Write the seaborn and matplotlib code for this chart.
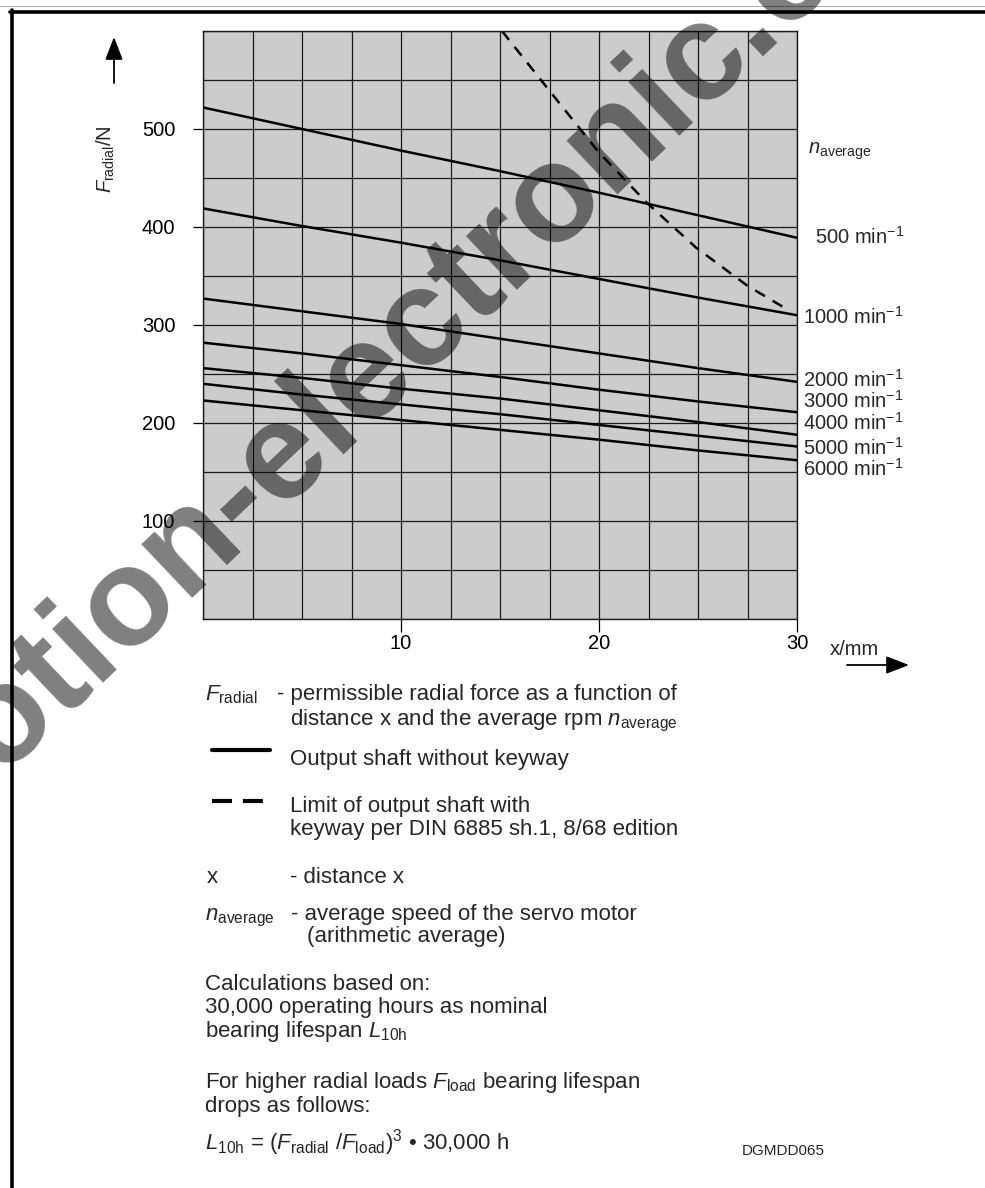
import numpy as np
import pandas as pd
import matplotlib
matplotlib.use("Agg")
import matplotlib.pyplot as plt
from matplotlib.lines import Line2D
import seaborn as sns

## ===================== data =====================

x_mm = [0, 5, 10, 15, 20, 25, 30]
speeds = ["500", "1000", "2000", "3000", "4000", "5000", "6000"]
f_500 = [522, 500, 478, 457, 435, 412, 389]
f_1000 = [419, 401, 384, 366, 347, 328, 310]
f_2000 = [327, 314, 301, 286, 271, 256, 242]
f_3000 = [282, 271, 259, 247, 234, 222, 211]
f_4000 = [256, 246, 235, 225, 213, 201, 188]
f_5000 = [240, 229, 219, 209, 198, 187, 176]
f_6000 = [223, 213, 203, 193, 183, 172, 162]

# limit for shaft with keyway (dashed)
x_keyway = [15.1, 17.5, 20.0, 22.4, 24.9, 27.5, 29.5]
f_keyway = [600, 539, 476, 425, 379, 340, 316]

x_ticks = [10, 20, 30]
y_ticks = [100, 200, 300, 400, 500]

## ===================== layout helpers =====================

W, H = 985, 1188
def fx(px):
    return px / W
def fy(py):
    return 1 - py / H

sns.set_theme(style="white")
plt.rcParams["font.family"] = ["Liberation Sans", "DejaVu Sans"]
plt.rcParams["mathtext.fontset"] = "custom"
plt.rcParams["mathtext.rm"] = "Liberation Sans"
plt.rcParams["mathtext.it"] = "Liberation Sans:italic"
plt.rcParams["mathtext.bf"] = "Liberation Sans:bold"

df = pd.DataFrame({
    "x": x_mm * len(speeds),
    "F": f_500 + f_1000 + f_2000 + f_3000 + f_4000 + f_5000 + f_6000,
    "speed": [s for s in speeds for _ in x_mm],
})

fig = plt.figure(figsize=(W / 100, H / 100), dpi=100)
ax = fig.add_axes([fx(203), fy(619), fx(797) - fx(203), fy(31) - fy(619)])
ax.set_facecolor("#cccccc")

sns.lineplot(data=df, x="x", y="F", units="speed", estimator=None, sort=False,
             color="black", lw=1.8, ax=ax, legend=False)
sns.lineplot(x=x_keyway, y=f_keyway, color="black", lw=1.8, ax=ax, legend=False)
ax.lines[-1].set_dashes((4.5, 3.6))

ax.set_xlim(0, 30)
ax.set_ylim(0, 600)
ax.set_xticks(x_ticks)
ax.set_xticks(np.arange(0, 30.01, 2.5), minor=True)
ax.set_yticks(y_ticks)
ax.set_yticks(np.arange(0, 601, 50), minor=True)
ax.set_xlabel("")
ax.set_ylabel("")
ax.grid(which="both", color="#1a1a1a", lw=0.9)
ax.tick_params(which="minor", length=0)
ax.tick_params(axis="x", which="major", bottom=True, length=9.5, width=0.9,
               pad=1.5, labelsize=14.5, colors="black")
ax.tick_params(axis="y", which="major", left=True, length=7, width=0.9,
               pad=13, labelsize=14.5, colors="black")
for sp in ax.spines.values():
    sp.set_color("#1a1a1a")
    sp.set_linewidth(1.0)

# right-hand speed labels
lab_x = [30.9, 30.3, 30.3, 30.3, 30.3, 30.3, 30.3]
lab_y = [383, 301, 237, 215, 193, 167.5, 146]
for s, lx, ly in zip(speeds, lab_x, lab_y):
    ax.text(lx, ly, s + " min$^{-1}$", fontsize=14.5, ha="left", va="baseline", clip_on=False)
ax.text(30.56, 474.5, r"$n_{\mathrm{average}}$", fontsize=14.5, ha="left", va="baseline", clip_on=False)

# axis labels and arrows
fig.text(fx(106), fy(159), r"$F_{\mathrm{radial}}$/N", rotation=90, fontsize=14.5,
         ha="center", va="center")
fig.text(fx(830), fy(655), "x/mm", fontsize=14.5, ha="left", va="baseline")
arrow = dict(arrowstyle="-|>,head_length=0.7,head_width=0.27", color="black", lw=1.3,
             mutation_scale=20, shrinkA=0, shrinkB=0)
ax.annotate("", xy=(fx(114), fy(37)), xytext=(fx(114), fy(83)),
            xycoords="figure fraction", textcoords="figure fraction", arrowprops=arrow)
ax.annotate("", xy=(fx(909), fy(665)), xytext=(fx(847), fy(665)),
            xycoords="figure fraction", textcoords="figure fraction", arrowprops=arrow)

## ===================== explanation block =====================

fs = 16
fig.text(fx(205), fy(700), r"$F_{\mathrm{radial}}$", fontsize=fs, va="baseline")
fig.text(fx(277), fy(700), "- permissible radial force as a function of", fontsize=fs, va="baseline")
fig.text(fx(290), fy(725), r"distance x and the average rpm $n_{\mathrm{average}}$", fontsize=fs, va="baseline")

fig.add_artist(Line2D([fx(212), fx(270)], [fy(750), fy(750)], color="black", lw=3))
fig.text(fx(290), fy(765), "Output shaft without keyway", fontsize=fs, va="baseline")

fig.add_artist(Line2D([fx(212), fx(263)], [fy(801), fy(801)], color="black", lw=3,
                      dashes=(4.8, 2.6)))
fig.text(fx(290), fy(812), "Limit of output shaft with", fontsize=fs, va="baseline")
fig.text(fx(290), fy(835), "keyway per DIN 6885 sh.1, 8/68 edition", fontsize=fs, va="baseline")

fig.text(fx(207), fy(883), "x", fontsize=fs, va="baseline")
fig.text(fx(290), fy(883), "- distance x", fontsize=fs, va="baseline")

fig.text(fx(205), fy(920), r"$n_{\mathrm{average}}$", fontsize=fs, va="baseline")
fig.text(fx(291), fy(920), "- average speed of the servo motor", fontsize=fs, va="baseline")
fig.text(fx(307), fy(942), "(arithmetic average)", fontsize=fs, va="baseline")

fig.text(fx(205), fy(990), "Calculations based on:", fontsize=fs, va="baseline")
fig.text(fx(205), fy(1013), "30,000 operating hours as nominal", fontsize=fs, va="baseline")
fig.text(fx(205), fy(1037), r"bearing lifespan $L_{\mathrm{10h}}$", fontsize=fs, va="baseline")

fig.text(fx(205), fy(1088), r"For higher radial loads $F_{\mathrm{load}}$ bearing lifespan",
         fontsize=fs, va="baseline")
fig.text(fx(205), fy(1112), "drops as follows:", fontsize=fs, va="baseline")
fig.text(fx(205), fy(1150),
         r"$L_{\mathrm{10h}}$ = ($F_{\mathrm{radial}}$ /$F_{\mathrm{load}}$)$^3$ • 30,000 h",
         fontsize=fs, va="baseline")
fig.text(fx(742), fy(1155), "DGMDD065", fontsize=11, va="baseline")

## ===================== frame and watermark =====================

fig.add_artist(Line2D([0, 1], [fy(6), fy(6)], color="#b0b0b0", lw=0.8))
fig.add_artist(Line2D([fx(10), 1], [fy(11.5), fy(11.5)], color="black", lw=2.6))
fig.add_artist(Line2D([fx(11.5), fx(11.5)], [fy(10), 0], color="black", lw=2.6))

fig.text(fx(-90), fy(857), "motion-electronic.com", rotation=43.5, rotation_mode="anchor",
         ha="left", va="baseline", fontsize=100, fontweight="bold", color="black",
         alpha=0.5, zorder=10)

fig.savefig("out.png", dpi=100)
